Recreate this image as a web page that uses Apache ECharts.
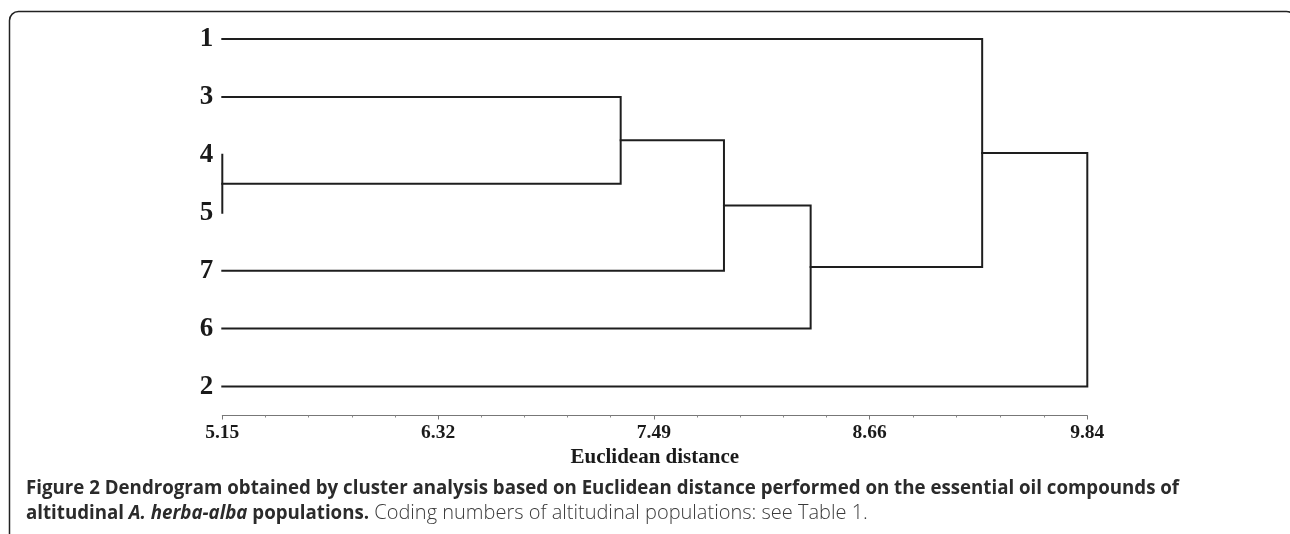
<!DOCTYPE html>
<html>
<head>
<meta charset="utf-8">
<script src="https://cdn.jsdelivr.net/npm/echarts@6/dist/echarts.min.js"></script>
<style>
html,body{margin:0;padding:0;background:#fff;}
#chart{width:1290px;height:534px;}
</style>
</head>
<body>
<div id="chart"></div>
<script>
// Leaf order (top to bottom)
var leaves = ['1', '3', '4', '5', '7', '6', '2'];
// Merges: [clusterA, clusterB, height]; leaves are ids 0..6, new clusters get ids 7, 8, ...
var merges = [
  [2, 3, 5.15],
  [1, 7, 7.31],
  [8, 4, 7.87],
  [9, 5, 8.34],
  [0, 10, 9.27],
  [11, 6, 9.84]
];
var xTicks = [5.15, 6.32, 7.49, 8.66, 9.84];
var xMin = 5.15, xMax = 9.84;
var axisName = 'Euclidean distance';
var capLine1 = 'Figure 2 Dendrogram obtained by cluster analysis based on Euclidean distance performed on the essential oil compounds of';
var capB = 'altitudinal ';
var capBI = 'A. herba-alba';
var capB2 = ' populations.';
var capN = ' Coding numbers of altitudinal populations: see Table 1.';

// Build dendrogram paths
var pos = leaves.map(function (l, i) { return { y: i, h: xMin }; });
var series = [];
merges.forEach(function (m) {
  var a = pos[m[0]], b = pos[m[1]], h = m[2];
  series.push({
    type: 'line',
    xAxisIndex: 0,
    yAxisIndex: 0,
    data: [[a.h, a.y], [h, a.y], [h, b.y], [b.h, b.y]],
    symbol: 'none',
    lineStyle: { color: '#1e1e1e', width: 2, cap: 'square', join: 'miter' },
    silent: true,
    animation: false
  });
  pos.push({ y: (a.y + b.y) / 2, h: h });
});

// minor ticks: 5 subdivisions per major interval
var minor = [];
for (var i = 0; i < xTicks.length - 1; i++) {
  for (var k = 1; k < 5; k++) {
    minor.push(xTicks[i] + (xTicks[i + 1] - xTicks[i]) * k / 5);
  }
}

// fit caption font sizes to the widths measured in the figure
var ctx = document.createElement('canvas').getContext('2d');
function w(font, s) { ctx.font = font; return ctx.measureText(s).width; }
var SANS = '"Open Sans", sans-serif';
var wb2 = w('bold 100px ' + SANS, capB) + w('italic bold 100px ' + SANS, capBI) + w('bold 100px ' + SANS, capB2);
var wb1 = w('bold 100px ' + SANS, 'Figure 2 Dendrogram obtained by cluster analysis based on Euclidean');
var boldSize = Math.max(14, Math.min(20, (339 / wb2 * 100 + 654 / wb1 * 100) / 2));
var wn = w('300 100px ' + SANS, 'Coding numbers of altitudinal');
var lightSize = Math.max(14, Math.min(20, 267 / wn * 100));

var chart = echarts.init(document.getElementById('chart'));
chart.setOption({
  animation: false,
  backgroundColor: '#fff',
  grid: { left: 222.3, right: 202.7, top: 10, height: 405.5, containLabel: false },
  xAxis: [{
    type: 'value', min: xMin, max: xMax, position: 'bottom',
    axisLine: { show: true, onZero: false, lineStyle: { color: '#777', width: 1 } },
    axisTick: { show: true, customValues: xTicks, length: 4, lineStyle: { color: '#777', width: 1 } },
    axisLabel: {
      customValues: xTicks, margin: 7,
      formatter: function (v) { return v.toFixed(2); },
      fontFamily: '"Liberation Serif", "Times New Roman", serif',
      fontWeight: 'bold', fontSize: 19.5, color: '#1a1a1a'
    },
    splitLine: { show: false },
    name: axisName, nameLocation: 'middle', nameGap: 31,
    nameTextStyle: {
      fontFamily: '"Liberation Serif", "Times New Roman", serif',
      fontWeight: 'bold', fontSize: 21, color: '#1a1a1a'
    }
  }, {
    type: 'value', min: xMin, max: xMax, position: 'bottom',
    axisLine: { show: false, onZero: false },
    axisTick: { show: true, customValues: minor, length: 2, lineStyle: { color: '#888', width: 1 } },
    axisLabel: { show: false },
    splitLine: { show: false }
  }],
  yAxis: {
    type: 'value', min: -0.5, max: 6.5, inverse: true,
    axisLine: { show: false }, axisTick: { show: false },
    splitLine: { show: false },
    axisLabel: {
      customValues: [0, 1, 2, 3, 4, 5, 6], margin: 9,
      formatter: function (v) { return leaves[Math.round(v)]; },
      fontFamily: '"Liberation Serif", "Times New Roman", serif',
      fontWeight: 'bold', fontSize: 27, color: '#1a1a1a'
    }
  },
  title: {
    left: 26, top: 476, padding: 0,
    text: '{b|' + capLine1 + '}\n{b|' + capB + '}{bi|' + capBI + '}{b|' + capB2 + '}{n|' + capN + '}',
    textStyle: {
      rich: {
        b: { fontFamily: SANS, fontWeight: 'bold', fontSize: boldSize, color: '#2b2b2b', lineHeight: 25 },
        bi: { fontFamily: SANS, fontWeight: 'bold', fontStyle: 'italic', fontSize: boldSize, color: '#2b2b2b', lineHeight: 25 },
        n: { fontFamily: SANS, fontWeight: 300, fontSize: lightSize, color: '#3a3a3a', lineHeight: 25 }
      }
    }
  },
  graphic: [{
    type: 'rect', silent: true,
    shape: { x: 9.5, y: 11.5, width: 1286, height: 600, r: 9 },
    style: { fill: 'none', stroke: '#222', lineWidth: 1.5 }
  }],
  series: series
});
</script>
</body>
</html>
